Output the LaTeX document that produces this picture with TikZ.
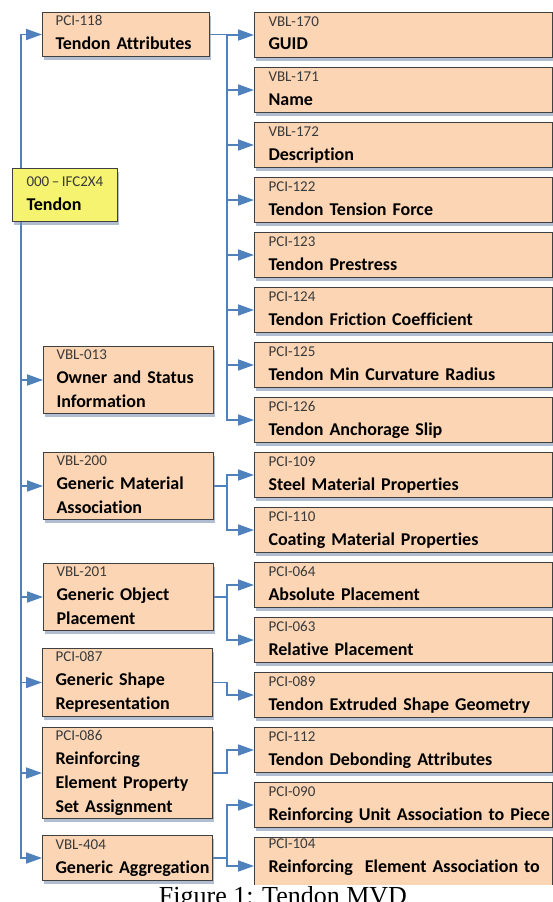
\documentclass[tikz,border=0pt]{standalone}
\usepackage{fontspec}
\setmainfont{Carlito}[Ligatures={NoCommon}]
\newfontfamily\romana{Liberation Serif}
\usepackage{tikz}
\usetikzlibrary{positioning}
\usetikzlibrary{arrows.meta,shadows,backgrounds}
\usepackage{xcolor}
\definecolor{azul}{RGB}{79,129,189}
\definecolor{durazno}{RGB}{251,213,180}
\definecolor{amarillo}{RGB}{245,243,111}
\definecolor{borde}{RGB}{64,64,64}
\definecolor{sombra}{RGB}{125,145,178}
\definecolor{etiqueta}{RGB}{58,58,58}
\newcommand{\ficha}[2]{{\fontsize{15}{24}\selectfont\mdseries\color{etiqueta}\rule{0pt}{11pt}#1}\\#2\rule[-5pt]{0pt}{5pt}}

\begin{document}
\begin{tikzpicture}[
    x=1pt, y=-1pt,
    caja/.style={rectangle, draw=borde, line width=1pt, fill=durazno, align=left, inner ysep=0pt, anchor=north west,
    font=\fontsize{18}{24}\selectfont\bfseries, drop shadow={shadow xshift=1pt, shadow yshift=-3pt, fill=sombra, opacity=.6}},
    izq/.style={caja, inner xsep=13pt, text width=144pt, minimum height=#1},
    der/.style={caja, inner xsep=14pt, text width=270pt, minimum height=45pt},
    raiz/.style={caja, fill=amarillo, inner xsep=14pt, text width=77pt, minimum height=53pt},
    flecha/.style={draw=azul, line width=1.8pt, -{Triangle[length=16pt,width=11pt]}},
    pie/.style={anchor=base, font=\romana\fontsize{26}{30}\selectfont}
    ]
\useasboundingbox (0,0) rectangle (553,902);

\begin{scope}
\clip (0,0) rectangle (553,884);
%Left column
\node[raiz] (tendon) at (12,168) {\ficha{000\,–\,IFC2X4}{Tendon}};
\node[izq=44pt, text width=141pt] (pci118) at (42,12) {\ficha{PCI-118}{Tendon Attributes}};
\node[izq=67pt] (vbl013) at (43,346) {\ficha{VBL-013}{Owner and Status\\Information}};
\node[izq=67pt] (vbl200) at (43,452) {\ficha{VBL-200}{Generic Material\\Association}};
\node[izq=67pt] (vbl201) at (43,563) {\ficha{VBL-201}{Generic Object\\Placement}};
\node[izq=68pt] (pci087) at (42,648) {\ficha{PCI-087}{Generic Shape\\Representation}};
\node[izq=91pt] (pci086) at (42,727) {\ficha{PCI-086}{Reinforcing\\Element Property\\Set Assignment}};
\node[izq=45pt] (vbl404) at (42,835) {\ficha{VBL-404}{\mbox{Generic Aggregation}}};

%Right column
\node[der] (vbl170) at (254,12) {\ficha{VBL-170}{GUID}};
\node[der, below=9pt of vbl170] (vbl171) {\ficha{VBL-171}{Name}};
\node[der, below=9pt of vbl171] (vbl172) {\ficha{VBL-172}{Description}};
\node[der, below=9pt of vbl172] (pci122) {\ficha{PCI-122}{Tendon Tension Force}};
\node[der, below=9pt of pci122] (pci123) {\ficha{PCI-123}{Tendon Prestress}};
\node[der, below=9pt of pci123] (pci124) {\ficha{PCI-124}{Tendon Friction Coefficient}};
\node[der, below=9pt of pci124] (pci125) {\ficha{PCI-125}{Tendon Min Curvature Radius}};
\node[der, below=9pt of pci125] (pci126) {\ficha{PCI-126}{Tendon Anchorage Slip}};
\node[der, below=9pt of pci126] (pci109) {\ficha{PCI-109}{Steel Material Properties}};
\node[der, below=9pt of pci109] (pci110) {\ficha{PCI-110}{Coating Material Properties}};
\node[der, below=9pt of pci110] (pci064) {\ficha{PCI-064}{Absolute Placement}};
\node[der, below=9pt of pci064] (pci063) {\ficha{PCI-063}{Relative Placement}};
\node[der, below=9pt of pci063] (pci089) {\ficha{PCI-089}{Tendon Extruded Shape Geometry}};
\node[der, below=9pt of pci089] (pci112) {\ficha{PCI-112}{Tendon Debonding Attributes}};
\node[der, below=9pt of pci112] (pci090) {\ficha{PCI-090}{\mbox{Reinforcing Unit Association to Piece}}};
\node[der, below=9pt of pci090] (pci104) {\ficha{PCI-104}{\mbox{Reinforcing~ Element Association to}\rule[-22pt]{0pt}{22pt}}};
\end{scope}

\coordinate (tronco) at (21,194);
\coordinate (bus) at (227,0);
\begin{scope}[on background layer]
%Tendon to first level
\foreach \hijo in {pci118,vbl013,vbl200,vbl201,pci087,pci086,vbl404}
    \draw[flecha] (tronco) |- (\hijo.west);
%Tendon Attributes
\foreach \hijo in {vbl170,vbl171,vbl172,pci122,pci123,pci124,pci125,pci126}
    \draw[flecha] (pci118.east) -- (pci118.east -| bus) |- (\hijo.west);
%Material, Placement, Shape, Property set, Aggregation
\foreach \hijo in {pci109,pci110}
    \draw[flecha] (vbl200.east) -- (vbl200.east -| bus) |- (\hijo.west);
\foreach \hijo in {pci064,pci063}
    \draw[flecha] (vbl201.east) -- (vbl201.east -| bus) |- (\hijo.west);
\draw[flecha] (pci087.east) -- (pci087.east -| bus) |- (pci089.west);
\draw[flecha] (pci086.east) -- (pci086.east -| bus) |- (pci112.west);
\foreach \hijo in {pci090,pci104}
    \draw[flecha] (vbl404.east) -- (vbl404.east -| bus) |- (\hijo.west);
\end{scope}

\node[pie] (pie) at (283,904) {Figure 1: Tendon MVD};
\end{tikzpicture}
\end{document}
